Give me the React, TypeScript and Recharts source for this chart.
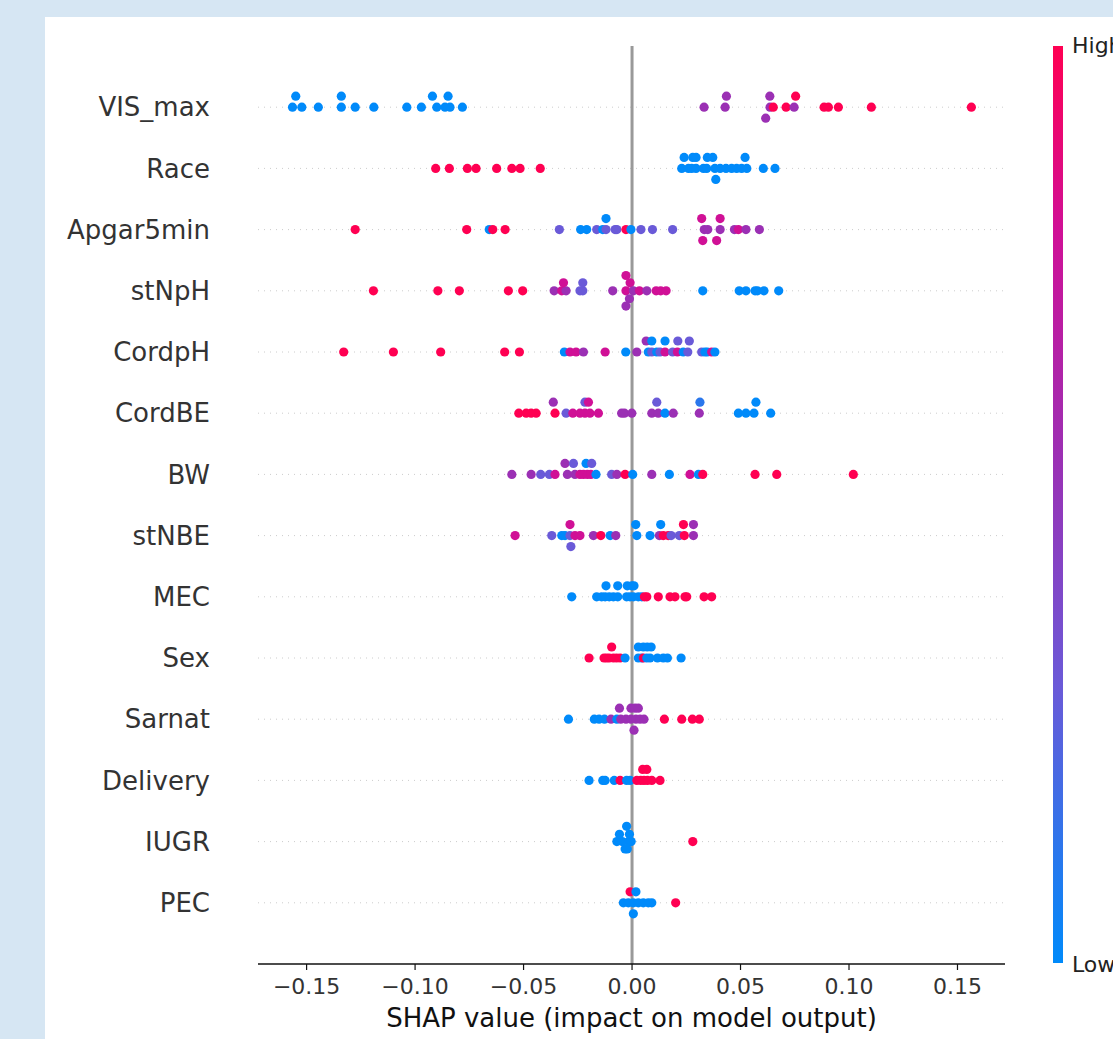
import React from "react";
import { ScatterChart, Scatter, XAxis, YAxis, ReferenceLine } from "recharts";

// [shap value, vertical jitter in rows, feature value 0 (low) .. 1 (high)]
type Pt = [number, number, number];

const LO = 0, BP = 0.3, PU = 0.55, MA = 0.8, HI = 1;

const features = ["VIS_max", "Race", "Apgar5min", "stNpH", "CordpH", "CordBE", "BW", "stNBE", "MEC", "Sex", "Sarnat", "Delivery", "IUGR", "PEC"];

const xTicks = [-0.15, -0.1, -0.05, 0, 0.05, 0.1, 0.15];

const visMax: Pt[] = [
  [-0.1565, 0, LO], [-0.1522, 0, LO], [-0.1446, 0, LO], [-0.134, 0, LO], [-0.1276, 0, LO], [-0.119, 0, LO],
  [-0.1038, 0, LO], [-0.0971, 0, LO], [-0.09, 0, LO], [-0.0862, 0, LO], [-0.0839, 0, LO], [-0.0782, 0, LO],
  [-0.155, -0.18, LO], [-0.134, -0.18, LO], [-0.092, -0.18, LO], [-0.0848, -0.18, LO],
  [0.0332, 0, PU], [0.0429, 0, PU], [0.0435, -0.18, PU], [0.0635, -0.18, PU], [0.0636, 0, PU], [0.0651, 0, HI],
  [0.0616, 0.18, PU], [0.071, 0, HI], [0.0747, 0, PU], [0.0754, -0.18, HI], [0.0885, 0, HI], [0.0905, 0, HI],
  [0.0951, 0, HI], [0.1103, 0, HI], [0.1564, 0, HI],
];

const race: Pt[] = [
  [-0.0905, 0, HI], [-0.0842, 0, HI], [-0.0759, 0, HI], [-0.0719, 0, HI], [-0.0624, 0, HI], [-0.0554, 0, HI],
  [-0.0516, 0, HI], [-0.0423, 0, HI],
  [0.0229, 0, LO], [0.026, 0, LO], [0.0275, 0, LO], [0.0295, 0, LO], [0.0329, 0, LO], [0.0344, 0, LO],
  [0.0382, 0, LO], [0.0406, 0, LO], [0.0433, 0, LO], [0.0459, 0, LO], [0.0482, 0, LO], [0.0505, 0, LO],
  [0.0529, 0, LO], [0.0605, 0, LO], [0.0659, 0, LO],
  [0.024, -0.18, LO], [0.028, -0.18, LO], [0.0295, -0.18, LO], [0.0347, -0.18, LO], [0.0372, -0.18, LO],
  [0.0521, -0.18, LO], [0.0386, 0.18, LO],
];

const apgar5min: Pt[] = [
  [-0.1276, 0, HI], [-0.0762, 0, HI], [-0.0658, 0, LO], [-0.0642, 0, HI], [-0.0585, 0, HI], [-0.0335, 0, BP],
  [-0.0237, 0, LO], [-0.0209, 0, LO], [-0.0163, 0, BP], [-0.0135, 0, LO], [-0.012, 0, BP], [-0.012, -0.18, LO],
  [-0.0078, 0, BP], [-0.007, 0, BP], [-0.0028, 0, HI], [-0.0005, 0, LO], [0.0041, 0, BP], [0.0094, 0, BP],
  [0.0187, 0, BP], [0.0333, 0, PU], [0.0349, 0, PU], [0.0406, 0, PU], [0.0472, 0, PU], [0.049, 0, MA],
  [0.0525, 0, PU], [0.0587, 0, PU], [0.0321, -0.18, MA], [0.0406, -0.18, MA], [0.0326, 0.18, MA], [0.039, 0.18, MA],
];

const stNpH: Pt[] = [
  [-0.1192, 0, HI], [-0.0895, 0, HI], [-0.0796, 0, HI], [-0.057, 0, HI], [-0.0504, 0, HI], [-0.0359, 0, PU],
  [-0.0324, 0, MA], [-0.0304, 0, PU], [-0.0316, -0.13, MA], [-0.024, 0, BP], [-0.0227, 0, BP], [-0.0227, -0.13, BP],
  [-0.0089, 0, PU], [-0.0028, 0, MA], [-0.0028, -0.25, MA], [-0.0009, -0.13, MA], [0.0006, 0, PU], [0.0034, 0, MA],
  [0.0068, 0, PU], [0.0111, 0, MA], [0.0132, 0, MA], [0.0157, 0, MA], [-0.0012, 0.13, PU], [-0.0028, 0.25, PU],
  [0.0326, 0, LO], [0.0494, 0, LO], [0.0525, 0, LO], [0.0567, 0, LO], [0.0578, 0, LO], [0.0608, 0, LO], [0.0676, 0, LO],
];

const cordpH: Pt[] = [
  [-0.1329, 0, HI], [-0.11, 0, HI], [-0.0882, 0, HI], [-0.0587, 0, HI], [-0.0519, 0, HI], [-0.0312, 0, LO],
  [-0.0286, 0, MA], [-0.0258, 0, MA], [-0.0224, 0, PU], [-0.0124, 0, MA], [-0.0029, 0, LO], [0.0022, 0, PU],
  [0.0075, 0, LO], [0.0091, 0, BP], [0.0114, 0, LO], [0.0129, 0, BP], [0.0152, 0, MA], [0.0187, 0, BP],
  [0.0209, 0, MA], [0.0236, 0, LO], [0.0257, 0, BP], [0.0321, 0, BP], [0.0336, 0, LO], [0.0347, 0, LO],
  [0.0367, 0, MA], [0.0382, 0, LO],
  [0.0065, -0.18, PU], [0.0091, -0.18, LO], [0.0152, -0.18, LO], [0.0211, -0.18, BP], [0.0264, -0.18, BP],
];

const cordBE: Pt[] = [
  [-0.0522, 0, HI], [-0.0488, 0, HI], [-0.0465, 0, HI], [-0.0442, 0, HI], [-0.0355, 0, HI], [-0.0304, 0, BP],
  [-0.0273, 0, MA], [-0.024, 0, MA], [-0.0217, 0, MA], [-0.0194, 0, MA], [-0.0155, 0, MA], [-0.0048, 0, PU],
  [-0.0035, 0, PU], [-0.0001, 0, PU], [0.0091, 0, PU], [0.0121, 0, PU], [0.0152, 0, LO], [0.019, 0, PU],
  [0.031, 0, PU], [0.049, 0, LO], [0.0525, 0, LO], [0.0562, 0, LO], [0.0639, 0, LO],
  [-0.0363, -0.18, PU], [-0.0217, -0.18, BP], [-0.0201, -0.18, MA], [0.0114, -0.18, BP], [0.0313, -0.18, 0.12],
  [0.0571, -0.18, LO],
];

const bw: Pt[] = [
  [-0.0554, 0, PU], [-0.0465, 0, PU], [-0.0421, 0, BP], [-0.0381, 0, BP], [-0.0355, 0, MA], [-0.0298, 0, PU],
  [-0.0263, 0, PU], [-0.024, 0, MA], [-0.0224, 0, MA], [-0.0206, 0, MA], [-0.019, 0, MA], [-0.0166, 0, LO],
  [-0.0094, 0, BP], [-0.007, 0, PU], [-0.0032, 0, HI], [0.0003, 0, LO], [0.0091, 0, PU], [0.0172, 0, LO],
  [0.0267, 0, MA], [0.0306, 0, LO], [0.0326, 0, HI], [0.0567, 0, HI], [0.0667, 0, HI], [0.102, 0, HI],
  [-0.0309, -0.18, PU], [-0.027, -0.18, BP], [-0.0212, -0.18, LO], [-0.0186, -0.18, BP],
];

const stNBE: Pt[] = [
  [-0.0539, 0, MA], [-0.037, 0, BP], [-0.0324, 0, LO], [-0.0309, 0, LO], [-0.0286, 0, BP], [-0.0263, 0, MA],
  [-0.024, 0, MA], [-0.0178, 0, PU], [-0.0144, 0, HI], [-0.0101, 0, LO], [-0.0075, 0, PU], [0.0022, 0, LO],
  [0.0083, 0, LO], [0.0126, 0, PU], [0.0144, 0, HI], [0.0167, 0, HI], [0.018, 0, BP], [0.0218, 0, BP],
  [0.0241, 0, HI], [0.0283, 0, PU],
  [-0.0286, -0.18, MA], [0.0017, -0.18, LO], [0.0132, -0.18, LO], [0.0237, -0.18, HI], [0.0283, -0.18, PU],
  [-0.0282, 0.18, BP],
];

const mec: Pt[] = [
  [-0.0278, 0, LO], [-0.0163, 0, LO], [-0.014, 0, LO], [-0.0124, 0, LO], [-0.0105, 0, LO], [-0.0086, 0, LO],
  [-0.0066, 0, LO], [-0.0025, 0, LO], [-0.0009, 0, LO], [0.0006, 0, LO], [0.0029, 0, LO], [0.0045, 0, LO],
  [0.0057, 0, HI], [0.0068, 0, HI], [0.0121, 0, HI], [0.0175, 0, HI], [0.0198, 0, HI], [0.0244, 0, HI],
  [0.0252, 0, HI], [0.0332, 0, HI], [0.0367, 0, HI],
  [-0.012, -0.18, LO], [-0.0066, -0.18, LO], [-0.0022, -0.18, LO], [-0.0001, -0.18, LO], [0.0009, -0.18, LO],
];

const sex: Pt[] = [
  [-0.0198, 0, HI], [-0.0129, 0, HI], [-0.0117, 0, HI], [-0.0105, 0, HI], [-0.0086, 0, HI], [-0.0071, 0, HI],
  [-0.0055, 0, HI], [-0.0032, 0, LO], [0.0029, 0, LO], [0.0045, 0, LO], [0.0052, 0, HI], [0.0068, 0, LO],
  [0.0083, 0, LO], [0.0117, 0, LO], [0.0144, 0, LO], [0.0163, 0, LO], [0.0226, 0, LO],
  [-0.0094, -0.18, HI], [0.0029, -0.18, LO], [0.0052, -0.18, LO], [0.007, -0.18, LO], [0.0088, -0.18, LO],
];

const sarnat: Pt[] = [
  [-0.0293, 0, LO], [-0.0174, 0, LO], [-0.0152, 0, LO], [-0.0127, 0, LO], [-0.0097, 0, PU], [-0.007, 0, LO],
  [-0.0052, 0, PU], [-0.0028, 0, PU], [-0.0005, 0, PU], [0.0018, 0, PU], [0.0037, 0, PU], [0.0055, 0, PU],
  [0.0149, 0, HI], [0.0229, 0, HI], [0.0278, 0, HI], [0.031, 0, HI],
  [-0.0058, -0.18, PU], [-0.0005, -0.18, PU], [0.0014, -0.18, PU], [0.0029, -0.18, PU], [0.0009, 0.18, PU],
];

const delivery: Pt[] = [
  [-0.0198, 0, LO], [-0.0135, 0, LO], [-0.0124, 0, LO], [-0.0082, 0, LO], [-0.0055, 0, HI], [-0.0025, 0, LO],
  [-0.0009, 0, LO], [0.0022, 0, HI], [0.004, 0, HI], [0.0055, 0, HI], [0.0071, 0, HI], [0.0091, 0, HI],
  [0.0129, 0, HI], [0.0049, -0.18, HI], [0.0068, -0.18, HI],
];

const iugr: Pt[] = [
  [-0.007, 0, LO], [-0.0045, 0, LO], [-0.0015, 0, LO], [-0.0004, 0, LO], [-0.0058, -0.12, LO], [-0.0012, -0.12, LO],
  [-0.0025, -0.25, LO], [-0.0032, 0.12, LO], [-0.0022, 0.12, LO], [0.028, 0, HI],
];

const pec: Pt[] = [
  [-0.004, 0, LO], [-0.0017, 0, LO], [0.0006, 0, LO], [0.0029, 0, LO], [0.0052, 0, LO], [0.0075, 0, LO],
  [0.0091, 0, LO], [0.0201, 0, HI], [-0.0009, -0.18, HI], [0.0018, -0.18, LO], [0.0006, 0.18, LO],
];

const rows = [visMax, race, apgar5min, stNpH, cordpH, cordBE, bw, stNBE, mec, sex, sarnat, delivery, iugr, pec];

const points = rows.flatMap((r, i) => r.map(([x, dy, c]) => ({ x, y: i + dy, c })));

// shap "red_blue" look-alike
const stops: [number, number[]][] = [
  [0, [0, 138, 250]],
  [0.3, [106, 90, 216]],
  [0.55, [155, 48, 180]],
  [0.8, [208, 16, 150]],
  [1, [255, 0, 82]],
];

const heat = (c: number) => {
  for (let i = 1; i < stops.length; i++) {
    const [t1, c1] = stops[i];
    const [t0, c0] = stops[i - 1];
    if (c <= t1) {
      const f = (c - t0) / (t1 - t0);
      const rgb = c0.map((v, k) => Math.round(v + (c1[k] - v) * f));
      return `rgb(${rgb.join(",")})`;
    }
  }
  return "rgb(255,0,82)";
};

const FONT = "DejaVu Sans";

const fmt = (v: number) => (v < 0 ? "\u2212" : "") + Math.abs(v).toFixed(2);

const FeatureTick = (props: any) => (
  <text x={210} y={props.y} dy="0.35em" textAnchor="end" fontSize={26} fill="#333" fontFamily={FONT}>
    {features[props.payload.value]}
  </text>
);

const Dot = (props: any) => <circle cx={props.cx} cy={props.cy} r={4.6} fill={heat(props.payload.c)} />;

const gradient = `linear-gradient(to top, ${stops.map(([t, c]) => `rgb(${c.join(",")}) ${t * 100}%`).join(", ")})`;

export default function App() {
  return (
    <div style={{ position: "absolute", left: 0, top: 0, width: 1113, height: 1039, background: "#d6e6f3", overflow: "hidden", fontFamily: FONT }}>
      <div style={{ position: "absolute", left: 45, top: 17, width: 1068, height: 1022, background: "#fff" }} />
      <div style={{ position: "absolute", left: 0, top: 0 }}>
        <ScatterChart width={1113} height={1039} margin={{ top: 46, right: 108, bottom: 0, left: 58 }}>
          {features.map((f, i) => (
            <ReferenceLine key={f} y={i} stroke="#ccc" strokeDasharray="1 5" />
          ))}
          <ReferenceLine x={0} stroke="#999" strokeWidth={3} />
          <XAxis
            type="number"
            dataKey="x"
            domain={[-0.1724, 0.1719]}
            allowDataOverflow
            ticks={xTicks}
            tickFormatter={fmt}
            height={75}
            axisLine={{ stroke: "#111", strokeWidth: 1.3 }}
            tickLine={{ stroke: "#111", strokeWidth: 1.2 }}
            tickSize={6}
            tickMargin={8}
            tick={{ fill: "#333", fontSize: 22, fontFamily: FONT }}
            label={{ value: "SHAP value (impact on model output)", position: "insideBottom", offset: 12, fill: "#111", fontSize: 26, fontFamily: FONT }}
          />
          <YAxis
            type="number"
            dataKey="y"
            domain={[-1, 14]}
            reversed
            ticks={features.map((_, i) => i)}
            width={200}
            axisLine={false}
            tickLine={false}
            tick={<FeatureTick />}
          />
          <Scatter data={points} shape={<Dot />} isAnimationActive={false} />
        </ScatterChart>
      </div>
      <div style={{ position: "absolute", left: 1053, top: 46, width: 10, height: 917, background: gradient }} />
      <div style={{ position: "absolute", left: 1072, top: 33, fontSize: 22, color: "#222", lineHeight: "26px" }}>High</div>
      <div style={{ position: "absolute", left: 1072, top: 952, fontSize: 22, color: "#222", lineHeight: "26px" }}>Low</div>
    </div>
  );
}
